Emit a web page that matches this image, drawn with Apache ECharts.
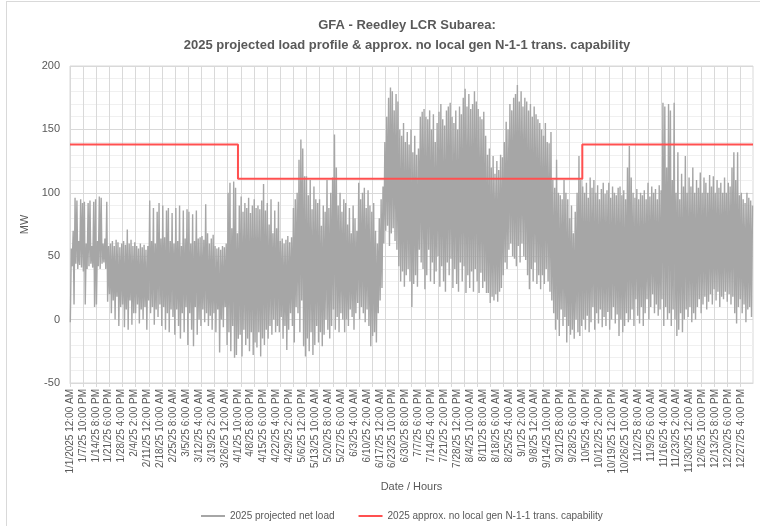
<!DOCTYPE html>
<html>
<head>
<meta charset="utf-8">
<script src="https://cdn.jsdelivr.net/npm/echarts@6/dist/echarts.min.js"></script>
<style>
  html, body { margin: 0; padding: 0; background: #fff; }
  #frame { position: absolute; left: 6px; top: 1px; width: 760px; height: 540px; border: 1px solid #d9d9d9; }
  #chart { position: absolute; left: 0; top: 0; width: 760px; height: 526px; }
</style>
</head>
<body>
<div id="frame"></div>
<div id="chart"></div>
<script>
// hours in the profile (leap-year template) and label step
const hourCount = 8784;
const labelStep = 166;

const tickLabels = ['1/1/2025 12:00 AM', '1/7/25 10:00 PM', '1/14/25 8:00 PM', '1/21/25 6:00 PM', '1/28/25 4:00 PM',
  '2/4/25 2:00 PM', '2/11/25 12:00 PM', '2/18/25 10:00 AM', '2/25/25 8:00 AM', '3/5/25 6:00 AM', '3/12/25 4:00 AM',
  '3/19/25 2:00 AM', '3/26/25 12:00 AM', '4/1/25 10:00 PM', '4/8/25 8:00 PM', '4/15/25 6:00 PM', '4/22/25 4:00 PM',
  '4/29/25 2:00 PM', '5/6/25 12:00 PM', '5/13/25 10:00 AM', '5/20/25 8:00 AM', '5/27/25 6:00 AM', '6/3/25 4:00 AM',
  '6/10/25 2:00 AM', '6/17/25 12:00 AM', '6/23/25 10:00 PM', '6/30/25 8:00 PM', '7/7/25 6:00 PM', '7/14/25 4:00 PM',
  '7/21/25 2:00 PM', '7/28/25 12:00 PM', '8/4/25 10:00 AM', '8/11/25 8:00 AM', '8/18/25 6:00 AM', '8/25/25 4:00 AM',
  '9/1/25 2:00 AM', '9/8/25 12:00 AM', '9/14/25 10:00 PM', '9/21/25 8:00 PM', '9/28/25 6:00 PM', '10/5/25 4:00 PM',
  '10/12/25 2:00 PM', '10/19/25 12:00 PM', '10/26/25 10:00 AM', '11/2/25 8:00 AM', '11/9/25 6:00 AM', '11/16/25 4:00 AM',
  '11/23/25 2:00 AM', '11/30/25 12:00 AM', '12/6/25 10:00 PM', '12/13/25 8:00 PM', '12/20/25 6:00 PM', '12/27/25 4:00 PM'];

// daily peak / low of the projected net load (MW), one row per week
const dailyPeak = [
  56, 70, 96, 94, 62, 95, 92,
  93, 60, 92, 94, 58, 93, 95,
  62, 97, 96, 60, 64, 93, 58,
  60, 62, 58, 63, 61, 57, 60,
  62, 59, 71, 60, 63, 58, 61,
  58, 56, 60, 57, 59, 55, 58,
  94, 62, 88, 60, 85, 92, 64,
  90, 65, 86, 88, 62, 84, 60,
  88, 62, 90, 58, 86, 64, 87,
  85, 60, 83, 62, 86, 64, 65,
  66, 63, 91, 68, 60, 64, 67,
  58, 56, 57, 55, 58, 57, 60,
  100, 108, 72, 109, 104, 68, 90,
  97, 85, 92, 88, 96, 84, 90,
  95, 88, 90, 87, 94, 107, 86,
  92, 75, 95, 68, 86, 72, 93,
  62, 64, 60, 63, 66, 61, 65,
  88, 95, 100, 126, 142, 135, 113,
  113, 98, 110, 87, 105, 95, 92,
  95, 74, 90, 85, 110, 88, 100,
  112, 146, 120, 90, 100, 85, 95,
  92, 75, 88, 68, 90, 80, 70,
  108, 95, 100, 104, 88, 102, 90,
  85, 92, 70, 60, 80, 95, 105,
  140, 160, 175, 183, 180, 165, 178,
  172, 150, 145, 155, 140, 148, 138,
  150, 132, 145, 130, 135, 160, 164,
  166, 160, 158, 165, 150, 162, 140,
  155, 164, 170, 158, 153, 165, 168,
  171, 160, 155, 165, 150, 168, 162,
  175, 182, 168, 178, 166, 170, 180,
  172, 166, 160, 158, 164, 145, 130,
  135, 120, 129, 115, 125, 118, 130,
  128, 140, 156, 150, 170, 165, 175,
  178, 185, 172, 180, 168, 175, 172,
  165, 170, 160, 168, 162, 158, 155,
  150, 145, 155, 140, 139, 148, 110,
  104, 126, 100, 98, 95, 110, 100,
  95, 80, 90, 68, 85, 100, 129,
  110, 105, 100, 108, 96, 112, 104,
  110, 100, 106, 95, 103, 108, 99,
  102, 108, 96, 105, 100, 98, 104,
  105, 98, 102, 95, 120, 137, 112,
  100, 96, 103, 95, 100, 98, 102,
  95, 108, 97, 105, 100, 103, 95,
  106, 102, 171, 168, 120, 170, 165,
  110, 171, 100, 132, 95, 115, 105,
  129, 100, 112, 105, 120, 100, 110,
  104, 116, 100, 112, 108, 100, 114,
  105, 113, 100, 110, 104, 108, 100,
  112, 100, 108, 105, 120, 132, 110,
  132, 98, 100, 95, 92, 100, 96,
  94, 90
];
const dailyLow = [
  -2, 42, 12, 44, 40, 43, 41,
  38, 12, 40, 42, 44, 41, 10,
  12, 42, 40, 44, 45, 40, 14,
  20, 5, 15, 0, 18, -5, 10,
  12, -6, 8, -8, 15, -4, 5,
  5, 12, -3, 8, 0, 10, -8,
  15, 5, 10, -4, 8, 2, 12,
  -5, 10, -8, 5, -10, 8, 2,
  -12, 8, -5, -15, 5, -10, 10,
  -20, 5, -8, -21, 10, -12, 0,
  -5, 8, -2, 5, -5, 3, -8,
  5, -10, 8, -26, 0, -6, 10,
  -20, -10, -25, -5, -30, -28, -15,
  -12, -29, -8, -20, -15, -25, -10,
  -28, -18, -22, -10, -29, -15, -20,
  -8, -15, -5, -12, 0, -10, -5,
  -10, 2, -15, -5, -24, -8, 5,
  -5, -18, 10, 5, -10, 15, -21,
  -29, -15, -25, -10, -28, -20, -5,
  -18, -10, -21, -12, 0, -8, -15,
  -5, 8, -8, 2, -10, 5, 0,
  -10, 0, -5, 8, 2, -8, 5,
  13, 0, 10, 5, -2, 8, -5,
  -21, -13, -10, -18, 5, 15, 25,
  60, 70, 74, 58, 68, 72, 62,
  55, 42, 30, 38, 26, 35, 40,
  30, 10, 28, 35, 26, 55, 45,
  40, 24, 35, 55, 30, 45, 28,
  38, 50, 26, 42, 30, 22, 45,
  35, 48, 25, 40, 28, 22, 45,
  30, 42, 21, 35, 25, 38, 22,
  40, 30, 21, 37, 25, 30, 21,
  21, 13, 18, 15, 20, 14, 22,
  25, 35, 45, 40, 55, 60, 50,
  48, 42, 58, 45, 60, 50, 47,
  35, 24, 40, 30, 45, 28, 35,
  24, 35, 28, 40, 30, 22, 15,
  5, -8, 0, -13, 8, -5, 2,
  -18, -5, -12, -8, -15, 0, -10,
  -13, -5, 0, -8, 3, -10, -2,
  10, -8, 5, -3, 8, -6, 2,
  -5, 6, -8, 0, 10, -3, 4,
  -13, 0, -10, -5, 5, -2, 0,
  8, -5, 16, 3, -3, 10, -5,
  5, 16, 0, 10, 20, 5, 12,
  3, 8, 16, -5, 10, 0, 5,
  -5, 8, 0, -13, -8, 5, -10,
  0, 8, 2, 10, -2, 5, 0,
  10, 16, 5, 12, 18, 8, 14,
  20, 12, 24, 15, 22, 10, 18,
  16, 22, 14, 20, 12, 18, 5,
  -3, 10, 16, 5, 12, -2, 8,
  10, 2
];
const lowHour = 4;
const peakHour = 17;

// approx. no local gen N-1-1 transmission capability: start hour and MW
const capabilityStart = [0, 2160, 6588];
const capabilityMW = [138, 111, 138];

const hours = [];
for (let i = 0; i < hourCount; i++) hours.push(String(i));

const loadData = [];
dailyPeak.forEach((peak, d) => {
  loadData.push([d * 24 + lowHour, dailyLow[d]]);
  loadData.push([d * 24 + peakHour, peak]);
});

const capData = [];
capabilityStart.forEach((start, i) => {
  const end = i + 1 < capabilityStart.length ? capabilityStart[i + 1] : hourCount - 1;
  capData.push([start, capabilityMW[i]]);
  capData.push([end, capabilityMW[i]]);
});

const textColor = '#595959';
const font = '"Liberation Sans", Arial, sans-serif';

const chart = echarts.init(document.getElementById('chart'));
chart.setOption({
  animation: false,
  title: {
    text: 'GFA - Reedley LCR Subarea:\n2025 projected load profile & approx. no local gen N-1-1 trans. capability',
    left: 402,
    top: 10,
    textAlign: 'center',
    textStyle: { color: textColor, fontSize: 13, fontWeight: 'bold', fontFamily: font, lineHeight: 20 }
  },
  legend: {
    bottom: 0,
    left: 196,
    itemGap: 24,
    itemWidth: 24,
    itemHeight: 2,
    icon: 'rect',
    textStyle: { color: textColor, fontSize: 10, fontFamily: font },
    data: ['2025 projected net load', '2025 approx. no local gen N-1-1 trans. capability']
  },
  grid: { left: 70, right: 7, top: 66, bottom: 143, show: true, borderColor: '#d9d9d9', borderWidth: 1 },
  xAxis: {
    type: 'category',
    data: hours,
    boundaryGap: false,
    name: 'Date / Hours',
    nameLocation: 'middle',
    nameGap: 97,
    nameTextStyle: { color: textColor, fontSize: 11, fontFamily: font },
    axisLine: { onZero: false, lineStyle: { color: '#d9d9d9' } },
    axisTick: { interval: 168, length: 4, lineStyle: { color: '#d9d9d9' } },
    splitLine: { show: true, interval: 168, lineStyle: { color: '#d9d9d9' } },
    axisLabel: {
      interval: labelStep - 1,
      rotate: 90,
      margin: 6,
      color: textColor,
      fontSize: 10,
      fontFamily: font,
      formatter: (v, i) => tickLabels[Math.round(i / labelStep)] || ''
    }
  },
  yAxis: {
    type: 'value',
    min: -50,
    max: 200,
    interval: 50,
    name: 'MW',
    nameLocation: 'middle',
    nameGap: 36,
    nameTextStyle: { color: textColor, fontSize: 11, fontFamily: font },
    axisLine: { show: false },
    axisTick: { show: false },
    axisLabel: { color: textColor, fontSize: 11, fontFamily: font, margin: 10 },
    splitLine: { lineStyle: { color: '#d9d9d9' } },
    minorSplitLine: { show: true, lineStyle: { color: '#f0f0f0' } },
    minorTick: { show: false, splitNumber: 5 }
  },
  series: [
    {
      name: '2025 projected net load',
      type: 'line',
      data: loadData,
      symbol: 'none',
      lineStyle: { color: '#a6a6a6', width: 1.4 },
      itemStyle: { color: '#a6a6a6' },
      z: 2
    },
    {
      name: '2025 approx. no local gen N-1-1 trans. capability',
      type: 'line',
      data: capData,
      symbol: 'none',
      lineStyle: { color: '#ff5050', width: 2 },
      itemStyle: { color: '#ff5050' },
      z: 3
    }
  ]
});
</script>
</body>
</html>
